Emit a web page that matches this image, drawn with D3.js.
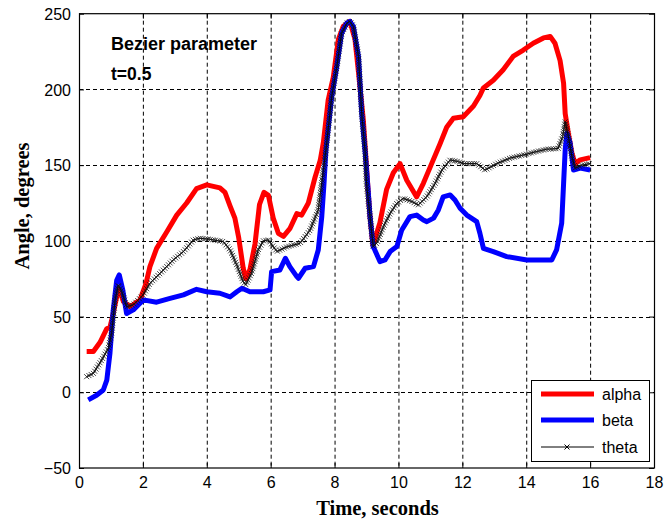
<!DOCTYPE html>
<html><head><meta charset="utf-8">
<script src="https://cdn.jsdelivr.net/npm/d3@7"></script>
<style>body{margin:0;background:#fff}svg{display:block}</style>
</head><body>
<svg id="c" width="665" height="523"></svg>
<script>
const xTicks=[0,2,4,6,8,10,12,14,16,18];
const yTicks=[-50,0,50,100,150,200,250];
const seriesNames=["alpha","beta","theta"];
const seriesColors=["#ff0000","#0000ff","#000000"];
const alphaT=[0.24,0.45,0.66,0.87,0.97,1.05,1.18,1.26,1.39,1.6,1.91,2.1,2.22,2.43,2.75,3.06,3.37,3.68,4.0,4.41,4.57,4.73,4.88,5.0,5.14,5.22,5.35,5.51,5.65,5.79,5.93,6.08,6.24,6.4,6.6,6.82,6.97,7.18,7.39,7.55,7.65,7.8,7.96,8.12,8.27,8.48,8.64,8.75,8.9,9.0,9.1,9.2,9.42,9.63,9.84,10.05,10.26,10.57,10.78,11.0,11.3,11.51,11.72,12.03,12.35,12.55,12.66,12.97,13.28,13.6,13.91,14.22,14.54,14.75,14.9,15.06,15.17,15.22,15.32,15.43,15.53,15.69,16.0];
const alphaV=[27,27,33,42,43,50,63,68,60,56.5,61,72,83,95,106,117,125,134.5,137,135,132,123,115,102,82,75,81,98,124,132,130,115,105,103,108,118,117,125,142,153,165,193,208,233,241.5,245,233,211,180,149,118,97,112,134,145,151,140,129,138,149,164,175,181,182,189,196,201,206,213,222,226,230.5,234,235,230.5,219,204,184,171,158,151,153.5,155];
const betaT=[0.29,0.55,0.76,0.87,0.97,1.07,1.18,1.26,1.37,1.49,1.7,2.01,2.43,2.85,3.27,3.68,4.0,4.41,4.73,4.94,5.1,5.35,5.77,5.98,6.03,6.29,6.46,6.6,6.82,6.87,7.08,7.34,7.49,7.6,7.67,7.73,7.91,8.07,8.22,8.38,8.48,8.59,8.75,8.85,8.96,9.06,9.11,9.21,9.26,9.42,9.58,9.74,9.95,10.1,10.36,10.57,10.78,10.89,11.1,11.25,11.4,11.62,11.77,11.93,12.14,12.45,12.55,12.66,12.97,13.39,14.02,14.8,14.95,15.11,15.17,15.22,15.27,15.37,15.48,15.69,16.0];
const betaV=[-5,-2,1.5,8,26,54,74,77.5,67.6,52,54.4,61,59.5,62,64.3,68,66.4,65.4,63,66.4,68.7,66.4,66.4,67.6,79.7,80.8,88.5,83,76.4,75.3,81.9,83,94,116,138,160,195,215,237,243.7,245,241.5,221.7,184,158,131,116,96,94,86.3,87.4,92.9,96.2,107,116,117,113.8,112.7,115,120.4,129,130.3,127,121.5,117,112.7,105,95,92.9,89.6,87.4,87.4,94,111.6,138,160,171,165,146.8,148,146.8];
const thetaT=[0.24,0.45,0.71,0.92,1.02,1.13,1.23,1.34,1.49,1.7,2.01,2.22,2.54,2.95,3.27,3.58,3.79,4.1,4.52,4.73,4.94,5.14,5.22,5.4,5.61,5.77,5.93,6.19,6.5,6.92,7.23,7.49,7.65,7.73,7.91,8.07,8.22,8.38,8.48,8.59,8.75,8.85,8.96,9.0,9.11,9.21,9.32,9.53,9.74,9.95,10.15,10.42,10.62,10.89,11.15,11.36,11.62,11.88,12.03,12.45,12.71,13.08,13.49,13.91,14.33,14.64,15.0,15.14,15.22,15.32,15.43,15.53,15.74,16.0];
const thetaV=[10.3,12.5,21.3,29,39,61,70.9,66.4,56.5,57.7,64.3,72,78.6,87.4,92.9,100.6,101.7,101,99.5,94,84,73,71,78.6,94,100,100.6,93,96,98.4,107,120.4,147,160,195,215,237,243.7,245,241.5,221.7,184,158,138,116,96.2,98.4,109.4,118.2,124.8,128,126,123.7,129.2,138,146.8,153.4,152.3,151,151,146.8,151,154.6,156.7,159,160.5,161,168.8,178.7,168.8,155.6,148,150,151];
const annotation1="Bezier parameter";
const annotation2="t=0.5";
const xLabel="Time, seconds";
const yLabel="Angle, degrees";

const svg=d3.select("#c");
const L=79,R=654,T=13.7,B=468;
const x=d3.scaleLinear().domain([0,18]).range([L,R]);
const y=d3.scaleLinear().domain([-50,250]).range([B,T]);
const g=svg.append("g");

// grid
g.selectAll(".gx").data(xTicks.slice(1,-1)).join("line")
 .attr("x1",d=>x(d)+0.5).attr("x2",d=>x(d)+0.5).attr("y1",T).attr("y2",B)
 .attr("stroke","#000").attr("stroke-width",1).attr("stroke-dasharray","4,3");
g.selectAll(".gy").data(yTicks.slice(1,-1)).join("line")
 .attr("y1",d=>Math.round(y(d))+0.5).attr("y2",d=>Math.round(y(d))+0.5).attr("x1",L).attr("x2",R)
 .attr("stroke","#000").attr("stroke-width",1).attr("stroke-dasharray","4,3");

// axes
const font="'Liberation Sans', Arial, sans-serif";
const ax=g.append("g").attr("transform",`translate(0,${B})`).call(d3.axisBottom(x).tickValues(xTicks).tickSize(-5).tickPadding(9).tickFormat(d3.format("d")));
const ay=g.append("g").attr("transform",`translate(${L},0)`).call(d3.axisLeft(y).tickValues(yTicks).tickSize(-5).tickPadding(8).tickFormat(d=>d<0?"\u2212"+(-d):d));
g.append("g").attr("transform",`translate(0,${T})`).call(d3.axisTop(x).tickValues(xTicks).tickSize(-5).tickFormat(""));
g.append("g").attr("transform",`translate(${R},0)`).call(d3.axisRight(y).tickValues(yTicks).tickSize(-5).tickFormat(""));
g.selectAll(".domain").remove();
g.selectAll(".tick line").attr("stroke","#000");
g.selectAll(".tick text").attr("font-family",font).attr("font-size",16).attr("fill","#000");
ay.selectAll(".tick text").attr("dy","0.35em");

// series
const mk=(T_,V_)=>T_.map((t,i)=>[t,V_[i]]);
const line=d3.line().x(d=>x(d[0])).y(d=>y(d[1]));
const plot=g.append("g");
plot.append("path").datum(mk(alphaT,alphaV)).attr("d",line).attr("fill","none").attr("stroke",seriesColors[0]).attr("stroke-width",5).attr("stroke-linejoin","round");
plot.append("path").datum(mk(betaT,betaV)).attr("d",line).attr("fill","none").attr("stroke",seriesColors[1]).attr("stroke-width",5).attr("stroke-linejoin","round");
const tp=plot.append("path").datum(mk(thetaT,thetaV)).attr("d",line).attr("fill","none").attr("stroke","#000").attr("stroke-width",1);
// x marker texture along theta line
const len=tp.node().getTotalLength();
const mg=plot.append("g").attr("stroke","#111").attr("stroke-width",0.9).attr("opacity",0.85);
for(let s=0;s<=len;s+=2.5){
  const p=tp.node().getPointAtLength(s);
  mg.append("path").attr("d",`M${p.x-2.5},${p.y-2.5}L${p.x+2.5},${p.y+2.5}M${p.x-2.5},${p.y+2.5}L${p.x+2.5},${p.y-2.5}`);
}

// frame
g.append("rect").attr("x",L+0.5).attr("y",T).attr("width",R-L).attr("height",B-T).attr("fill","none").attr("stroke","#000").attr("stroke-width",1.2);

// annotation
g.append("text").attr("x",111).attr("y",50).attr("font-family",font).attr("font-weight","bold").attr("font-size",18).text(annotation1);
g.append("text").attr("x",111).attr("y",80).attr("font-family",font).attr("font-weight","bold").attr("font-size",17.5).text(annotation2);

// labels
const serif="'Liberation Serif','Times New Roman',serif";
svg.append("text").attr("x",377.5).attr("y",515).attr("text-anchor","middle").attr("font-family",serif).attr("font-weight","bold").attr("font-size",20.5).text(xLabel);
svg.append("text").attr("transform",`translate(28.5,206) rotate(-90)`).attr("text-anchor","middle").attr("font-family",serif).attr("font-weight","bold").attr("font-size",20.5).text(yLabel);

// legend
const lg=svg.append("g");
lg.append("rect").attr("x",531.5).attr("y",380.5).attr("width",118).attr("height",81).attr("fill","#fff").attr("stroke","#000").attr("stroke-width",1);
const rows=[394,420,447];
seriesNames.forEach((n,i)=>{
  lg.append("line").attr("x1",541).attr("x2",594).attr("y1",rows[i]).attr("y2",rows[i]).attr("stroke",seriesColors[i]).attr("stroke-width",i<2?5:1);
  if(i===2){lg.append("path").attr("d",`M564.5,${rows[i]-2.5}l5,5M564.5,${rows[i]+2.5}l5,-5`).attr("stroke","#000").attr("stroke-width",1);}
  lg.append("text").attr("x",602).attr("y",rows[i]).attr("dy","0.35em").attr("font-family",font).attr("font-size",16).text(n);
});
</script>
</body></html>
